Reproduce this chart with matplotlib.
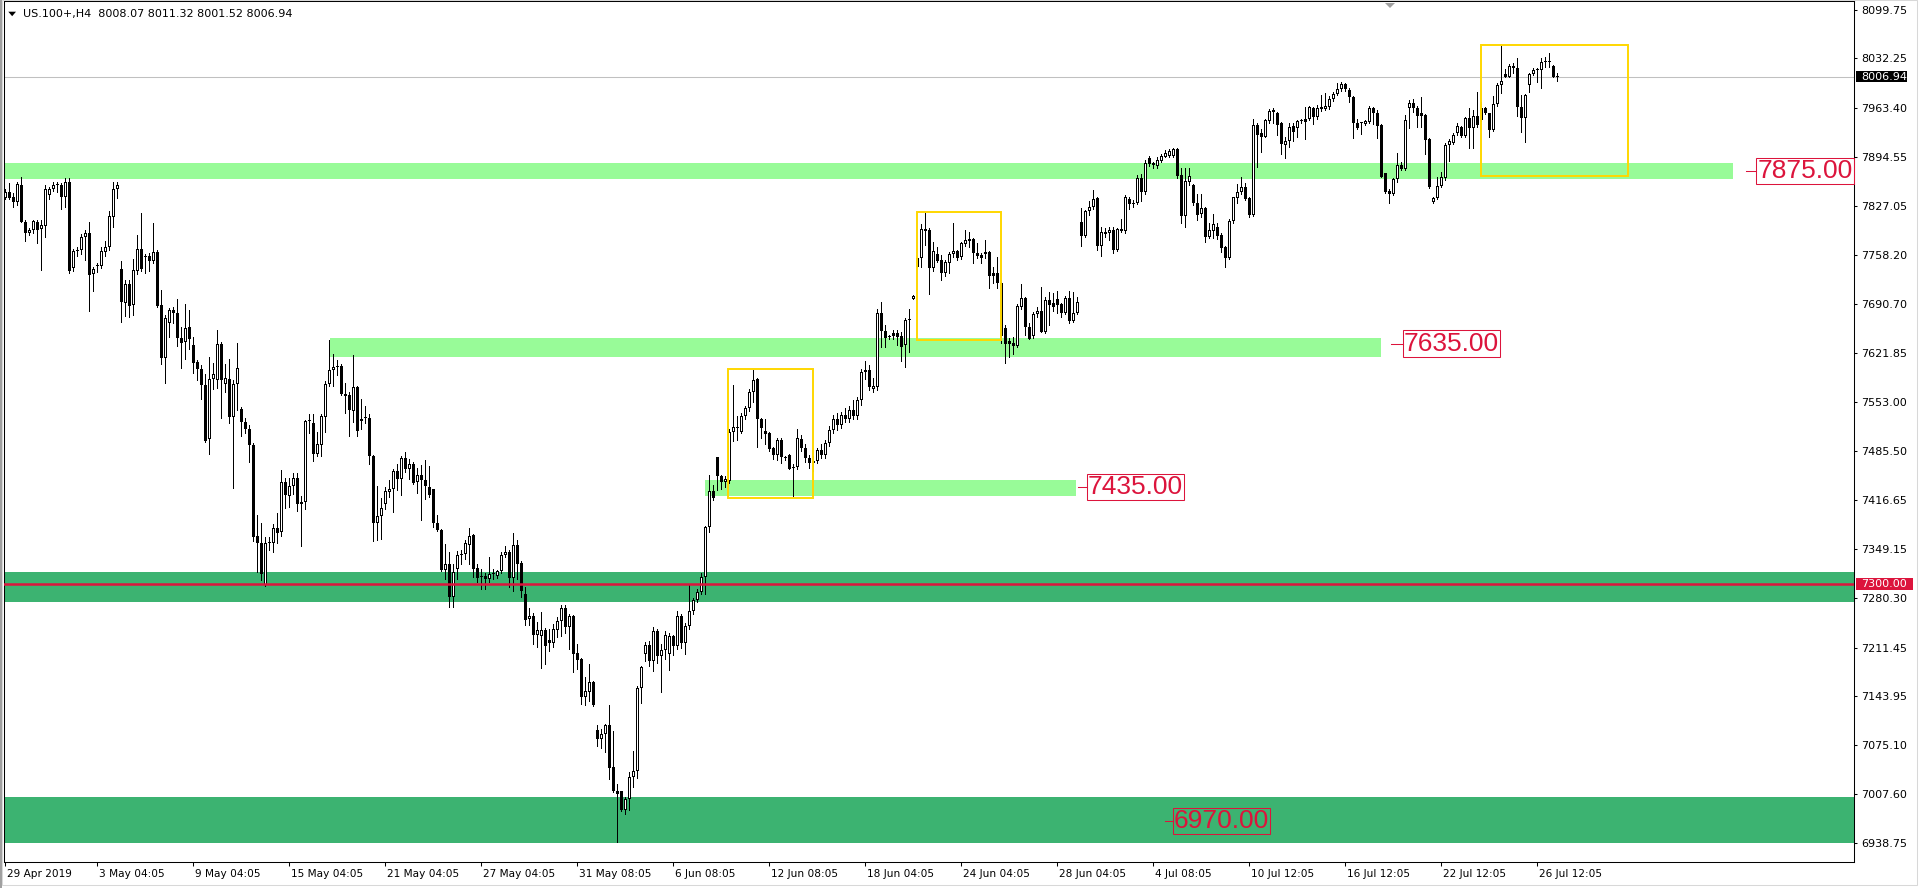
import numpy as np
import matplotlib.pyplot as plt
from matplotlib.patches import Rectangle, Polygon
from matplotlib.transforms import ScaledTranslation, blended_transform_factory

# H4 candles, one value per bar
opens = [
    7838.3, 7845.7, 7838.8, 7832.7, 7856.0, 7804.9, 7788.6, 7793.2, 7804.9, 7794.2,
    7798.8, 7842.0, 7849.9, 7855.9, 7855.9, 7839.7, 7859.7, 7740.8, 7764.0, 7765.4,
    7783.0, 7788.6, 7731.5, 7743.1, 7743.6, 7763.0, 7769.1, 7811.8, 7849.9, 7738.9,
    7692.0, 7717.6, 7688.3, 7736.6, 7766.8, 7756.1, 7757.0, 7750.5, 7762.1, 7688.8,
    7615.4, 7663.2, 7681.8, 7677.1, 7642.3, 7637.7, 7657.6, 7633.0, 7608.9, 7599.6,
    7577.3, 7501.6, 7585.2, 7584.3, 7634.4, 7578.3, 7585.2, 7533.2, 7578.2, 7543.9,
    7525.8, 7516.0, 7493.7, 7366.9, 7356.7, 7298.7, 7357.6, 7357.6, 7377.6, 7372.3,
    7441.9, 7423.0, 7436.0, 7447.9, 7412.1, 7413.6, 7526.5, 7524.0, 7481.7, 7494.2,
    7532.5, 7578.8, 7598.7, 7602.2, 7603.6, 7565.3, 7563.8, 7541.4, 7573.8, 7526.5,
    7531.0, 7531.5, 7477.8, 7384.7, 7394.7, 7411.1, 7428.5, 7432.0, 7456.9, 7445.9,
    7475.8, 7460.8, 7466.8, 7441.9, 7451.9, 7444.4, 7434.5, 7432.0, 7384.7, 7374.7,
    7320.0, 7328.5, 7281.7, 7321.5, 7339.9, 7341.4, 7354.8, 7368.3, 7322.5, 7310.1,
    7311.6, 7307.6, 7313.5, 7311.6, 7317.5, 7339.9, 7344.9, 7308.6, 7354.8, 7328.9,
    7286.7, 7250.9, 7255.7, 7229.3, 7227.8, 7235.5, 7222.1, 7217.3, 7236.5, 7247.9,
    7266.2, 7240.3, 7255.7, 7203.8, 7195.7, 7142.9, 7150.1, 7163.5, 7096.4, 7083.9,
    7091.6, 7103.1, 7044.6, 7010.9, 7010.9, 6984.6, 7000.4, 7031.1, 7038.8, 7154.9,
    7202.9, 7214.9, 7193.3, 7234.1, 7199.0, 7208.6, 7202.9, 7226.9, 7213.4, 7255.7,
    7218.2, 7241.3, 7262.9, 7277.3, 7289.2, 7309.4, 7379.4, 7429.4, 7476.4, 7450.0,
    7441.8, 7444.0, 7511.4, 7517.6, 7512.3, 7533.9, 7544.5, 7567.5, 7585.8, 7530.1,
    7513.3, 7510.9, 7489.3, 7480.2, 7501.3, 7475.4, 7479.7, 7462.9, 7462.9,
    7502.0, 7490.0, 7475.0, 7468.0, 7472.0, 7486.0, 7480.0, 7496.0, 7515.0, 7530.0,
    7522.0, 7535.0, 7530.0, 7542.0, 7534.0, 7556.0, 7595.0, 7598.0,
    7571.3, 7575.0, 7677.2, 7653.0, 7644.2, 7646.1, 7649.3, 7645.6, 7632.6, 7667.9,
    7697.1, 7742.2, 7753.8, 7792.3, 7793.3, 7740.8, 7759.4, 7751.5, 7732.9, 7747.8,
    7759.8, 7764.0, 7755.2, 7773.8, 7780.3, 7780.3, 7760.8, 7758.4, 7759.4, 7762.6,
    7729.6, 7732.9, 7719.9, 7656.3, 7638.6, 7635.4, 7632.1, 7686.0, 7698.1, 7657.7,
    7646.1, 7675.8, 7680.4, 7651.6, 7695.7, 7691.1, 7697.1, 7690.2, 7678.1, 7698.1, 7667.0, 7677.2,
    7804.0, 7785.4, 7819.8, 7825.8, 7838.3, 7771.5, 7787.3, 7789.6, 7793.3, 7765.4,
    7791.9, 7791.9, 7836.5, 7829.5, 7830.4, 7865.3, 7846.7, 7893.1, 7886.2, 7882.5,
    7889.9, 7895.5, 7896.4, 7896.4, 7905.7, 7869.5, 7813.3, 7860.6, 7856.0, 7831.4,
    7815.6, 7824.4, 7784.0, 7792.3, 7797.9, 7786.3, 7769.1, 7753.8, 7805.4, 7838.3,
    7845.8, 7852.7, 7838.3, 7814.2, 7939.6, 7928.9, 7923.3, 7945.6, 7958.2, 7956.8,
    7942.8, 7911.7, 7917.7, 7938.2, 7934.9, 7945.1, 7944.2, 7947.5, 7962.8, 7951.2,
    7964.2, 7961.9, 7965.1, 7975.3, 7982.8, 7989.3, 7996.7, 7988.3, 7978.1, 7942.8,
    7941.9, 7940.9, 7944.2, 7962.8, 7955.8, 7939.6, 7872.2, 7847.6, 7843.0, 7863.9,
    7883.8, 7877.8, 7962.8, 7969.7, 7962.8, 7956.7, 7953.5, 7920.0, 7831.8, 7837.4,
    7854.6, 7866.2, 7911.0, 7914.9, 7928.9, 7937.2, 7924.2, 7948.8, 7934.9, 7952.1,
    7946.5, 7962.8, 7955.8, 7932.6, 7968.8, 7995.3, 8010.6, 8006.9, 8021.7, 8018.5,
    7965.1, 7948.8, 7995.3, 8010.6, 8016.2, 8016.2, 8027.8, 8028.3, 8021.7, 8008.07,
]
highs = [
    7849.9, 7858.3, 7844.3, 7860.6, 7866.6, 7807.2, 7795.6, 7807.2, 7807.2, 7807.2,
    7855.9, 7852.7, 7860.6, 7860.1, 7858.3, 7865.2, 7865.2, 7766.8, 7769.1, 7787.7,
    7793.2, 7804.9, 7742.2, 7747.7, 7769.1, 7777.9, 7819.7, 7859.7, 7859.7, 7750.0,
    7723.6, 7723.6, 7752.8, 7786.3, 7816.5, 7759.3, 7760.7, 7802.6, 7765.4, 7709.7,
    7674.8, 7684.1, 7686.4, 7696.6, 7658.6, 7690.1, 7681.8, 7644.6, 7612.1, 7605.2,
    7592.6, 7616.8, 7607.5, 7653.9, 7637.7, 7606.1, 7613.1, 7584.3, 7636.3, 7547.1,
    7530.9, 7521.1, 7496.0, 7396.2, 7384.6, 7365.1, 7365.1, 7383.6, 7398.5, 7458.3,
    7447.9, 7447.9, 7454.4, 7454.4, 7423.0, 7528.0, 7537.5, 7537.5, 7511.6, 7536.5,
    7582.2, 7640.0, 7620.1, 7612.1, 7606.1, 7580.3, 7567.3, 7618.6, 7576.3, 7557.4,
    7547.4, 7537.5, 7479.3, 7437.0, 7419.5, 7434.5, 7444.4, 7460.8, 7466.8, 7477.8,
    7484.2, 7474.3, 7469.3, 7461.8, 7465.8, 7472.8, 7464.3, 7433.0, 7395.7, 7376.2,
    7355.8, 7344.9, 7328.5, 7346.4, 7347.4, 7361.3, 7378.2, 7369.8, 7327.5, 7321.5,
    7315.0, 7337.4, 7321.5, 7320.0, 7344.9, 7353.4, 7347.4, 7371.3, 7361.3, 7331.5,
    7295.1, 7266.2, 7259.5, 7247.0, 7260.5, 7238.4, 7237.4, 7243.7, 7253.3, 7270.1,
    7270.1, 7257.6, 7256.6, 7216.3, 7197.1, 7170.3, 7188.5, 7164.5, 7103.1, 7097.3,
    7104.5, 7131.9, 7094.9, 7021.5, 7011.9, 7003.8, 7037.4, 7067.6, 7157.3, 7186.1,
    7219.7, 7220.6, 7240.3, 7237.4, 7216.3, 7234.1, 7231.7, 7229.3, 7262.9, 7258.1,
    7246.1, 7297.9, 7280.6, 7293.1, 7315.6, 7381.4, 7452.4, 7438.0, 7477.4, 7452.4,
    7449.9, 7516.0, 7577.1, 7533.9, 7538.7, 7547.4, 7571.4, 7598.7, 7586.7, 7531.5,
    7530.1, 7512.3, 7490.8, 7502.8, 7502.8, 7478.8, 7481.2, 7467.7, 7515.7,
    7508.0, 7495.0, 7480.0, 7478.0, 7490.0, 7495.0, 7500.0, 7520.0, 7535.0, 7538.0,
    7540.0, 7545.0, 7548.0, 7556.0, 7560.0, 7600.0, 7610.0, 7605.0,
    7586.6, 7682.7, 7692.5, 7660.9, 7646.5, 7654.0, 7654.0, 7651.6, 7670.2, 7683.2,
    7702.7, 7753.8, 7801.6, 7817.4, 7796.5, 7776.1, 7769.1, 7758.4, 7751.5, 7763.1,
    7802.6, 7765.4, 7777.0, 7793.3, 7790.0, 7782.6, 7775.6, 7760.8, 7779.3, 7764.0,
    7742.2, 7756.1, 7721.0, 7660.9, 7643.3, 7644.7, 7689.7, 7718.0, 7700.4, 7663.2,
    7679.5, 7685.5, 7713.4, 7700.4, 7707.4, 7705.0, 7708.8, 7692.0, 7701.3, 7708.8, 7707.4, 7700.4,
    7823.5, 7821.2, 7833.7, 7849.0, 7839.7, 7797.0, 7795.6, 7797.9, 7797.9, 7795.6,
    7808.1, 7842.0, 7839.7, 7835.1, 7869.9, 7871.3, 7890.8, 7896.4, 7888.5, 7894.5,
    7899.2, 7904.8, 7905.7, 7907.1, 7907.1, 7879.2, 7879.2, 7879.2, 7857.4, 7843.4,
    7843.4, 7825.8, 7802.6, 7815.6, 7803.5, 7788.6, 7771.0, 7808.1, 7839.7, 7857.4,
    7867.6, 7858.3, 7839.7, 7947.5, 7941.9, 7933.5, 7947.5, 7961.4, 7962.8, 7958.2,
    7944.2, 7923.3, 7941.9, 7941.9, 7946.5, 7947.5, 7965.1, 7966.1, 7965.1, 7967.4,
    7981.4, 7984.6, 7980.0, 7986.0, 7998.6, 7999.9, 7998.6, 7990.7, 7979.9, 7947.5,
    7944.2, 7946.5, 7966.0, 7965.1, 7960.5, 7940.9, 7873.1, 7849.9, 7865.3, 7900.1,
    7888.5, 7953.5, 7974.4, 7975.3, 7966.0, 7979.0, 7954.9, 7921.0, 7839.7, 7867.6,
    7874.5, 7914.0, 7919.6, 7927.9, 7941.9, 7938.2, 7950.2, 7962.8, 7960.5, 7986.0,
    7972.1, 7964.2, 7956.7, 7980.0, 7997.6, 8049.6, 8017.1, 8024.5, 8025.5, 8032.4,
    7981.4, 7982.7, 8012.5, 8018.5, 8018.5, 8032.4, 8034.8, 8039.4, 8023.1, 8011.32,
]
lows = [
    7836.0, 7836.0, 7825.7, 7828.1, 7804.9, 7778.4, 7786.3, 7789.5, 7775.6, 7737.5,
    7783.0, 7836.9, 7848.0, 7846.7, 7823.0, 7824.8, 7733.8, 7736.6, 7757.0, 7759.8,
    7751.5, 7680.9, 7708.7, 7735.2, 7739.8, 7757.0, 7765.4, 7797.9, 7838.3, 7665.5,
    7673.4, 7672.5, 7674.8, 7731.5, 7736.6, 7733.8, 7736.6, 7746.8, 7685.5, 7606.1,
    7580.5, 7644.6, 7664.1, 7631.6, 7600.5, 7613.1, 7627.0, 7594.5, 7584.3, 7557.3,
    7497.4, 7480.7, 7571.3, 7572.7, 7530.9, 7567.1, 7523.9, 7434.3, 7542.5, 7506.3,
    7510.0, 7469.6, 7359.9, 7317.2, 7305.6, 7297.3, 7347.4, 7345.1, 7356.7, 7366.3,
    7406.1, 7407.1, 7426.0, 7402.1, 7352.4, 7404.6, 7510.6, 7471.8, 7477.8, 7478.3,
    7511.6, 7575.3, 7575.3, 7591.2, 7563.8, 7538.9, 7506.6, 7525.5, 7506.6, 7516.6,
    7524.0, 7467.8, 7359.8, 7361.3, 7362.3, 7404.6, 7421.0, 7399.6, 7431.0, 7424.5,
    7455.9, 7445.9, 7439.4, 7427.0, 7389.7, 7418.0, 7421.0, 7379.7, 7373.2, 7317.5,
    7307.6, 7267.8, 7267.8, 7306.6, 7328.5, 7334.9, 7327.5, 7310.1, 7302.6, 7292.6,
    7293.6, 7302.6, 7306.6, 7308.6, 7315.0, 7337.4, 7295.1, 7290.2, 7306.6, 7281.7,
    7242.9, 7242.2, 7216.3, 7211.5, 7182.7, 7188.5, 7206.7, 7211.5, 7225.9, 7226.9,
    7231.7, 7208.7, 7177.9, 7181.3, 7133.3, 7131.9, 7136.7, 7129.9, 7074.3, 7071.0,
    7066.2, 7027.8, 7010.0, 6940.0, 6983.1, 6979.8, 6984.6, 7016.7, 7029.2, 7134.8,
    7192.3, 7186.1, 7178.9, 7189.5, 7149.1, 7195.7, 7179.9, 7200.5, 7208.7, 7210.1,
    7202.9, 7237.4, 7258.1, 7274.8, 7285.4, 7285.4, 7371.8, 7416.4, 7430.8, 7432.2,
    7435.6, 7441.0, 7499.4, 7500.3, 7510.4, 7530.1, 7541.1, 7553.1, 7490.8, 7502.8,
    7495.6, 7485.0, 7474.0, 7472.5, 7469.2, 7472.5, 7459.6, 7422.6, 7459.6,
    7485.0, 7470.0, 7462.0, 7458.0, 7468.0, 7475.0, 7476.0, 7492.0, 7510.0, 7515.0,
    7518.0, 7525.0, 7525.0, 7530.0, 7530.0, 7550.0, 7585.0, 7570.0,
    7568.0, 7570.4, 7630.7, 7629.8, 7641.0, 7641.0, 7633.1, 7611.2, 7601.9, 7623.8,
    7696.7, 7742.2, 7742.2, 7772.4, 7704.1, 7736.6, 7749.2, 7723.6, 7729.2, 7732.9,
    7756.1, 7751.5, 7752.9, 7771.4, 7770.1, 7747.8, 7753.8, 7747.8, 7753.8, 7712.9,
    7718.9, 7712.9, 7636.0, 7608.4, 7615.9, 7620.5, 7630.7, 7682.7, 7647.0, 7640.9,
    7642.3, 7672.5, 7651.6, 7650.2, 7660.9, 7680.9, 7677.2, 7671.6, 7676.2, 7663.2, 7665.6, 7676.2,
    7771.0, 7784.0, 7814.2, 7822.1, 7765.4, 7757.5, 7784.0, 7779.4, 7761.7, 7764.0,
    7789.9, 7788.6, 7822.1, 7824.9, 7829.5, 7834.2, 7843.4, 7882.5, 7879.2, 7879.2,
    7888.5, 7894.5, 7894.5, 7895.5, 7865.3, 7803.5, 7797.0, 7856.0, 7828.1, 7807.2,
    7811.9, 7777.0, 7781.7, 7781.7, 7780.3, 7763.1, 7742.2, 7752.4, 7803.5, 7831.4,
    7843.4, 7835.1, 7810.9, 7812.8, 7880.6, 7902.4, 7922.4, 7942.8, 7941.9, 7925.6,
    7899.2, 7893.1, 7908.5, 7917.7, 7923.3, 7941.9, 7919.6, 7946.5, 7941.0, 7947.5,
    7959.5, 7960.5, 7961.4, 7973.5, 7981.4, 7987.4, 7987.4, 7972.1, 7921.9, 7934.0,
    7927.0, 7939.6, 7941.9, 7940.9, 7921.0, 7866.6, 7844.3, 7831.4, 7842.0, 7860.6,
    7876.8, 7876.8, 7934.9, 7958.1, 7937.2, 7936.3, 7899.2, 7851.3, 7830.4, 7836.0,
    7852.7, 7862.9, 7889.9, 7913.1, 7925.6, 7923.3, 7923.3, 7907.0, 7907.0, 7937.2,
    7945.6, 7954.9, 7923.3, 7931.6, 7966.0, 7984.6, 8005.9, 8005.9, 8012.5, 7952.1,
    7930.3, 7916.3, 7986.0, 8009.2, 7999.9, 7990.6, 8020.8, 8019.9, 8005.9, 8001.52,
]
closes = [
    7845.7, 7837.4, 7832.7, 7857.3, 7804.9, 7788.6, 7793.2, 7805.8, 7793.2, 7800.2,
    7849.9, 7849.9, 7855.9, 7856.2, 7839.7, 7859.7, 7736.6, 7764.0, 7765.4, 7783.0,
    7788.6, 7730.6, 7738.9, 7744.5, 7764.0, 7769.1, 7812.8, 7849.9, 7855.9, 7693.4,
    7717.6, 7687.4, 7737.5, 7766.8, 7738.4, 7757.5, 7750.5, 7762.1, 7687.4, 7615.4,
    7670.2, 7681.8, 7677.1, 7642.3, 7636.3, 7656.2, 7640.9, 7608.4, 7599.1, 7576.8,
    7499.3, 7585.2, 7592.2, 7634.4, 7584.3, 7586.6, 7533.2, 7578.2, 7600.5, 7526.2,
    7515.5, 7493.7, 7366.0, 7356.7, 7314.0, 7357.6, 7358.5, 7377.6, 7371.5, 7441.9,
    7424.5, 7436.0, 7447.9, 7412.1, 7413.6, 7526.5, 7527.0, 7481.7, 7495.2, 7534.0,
    7578.8, 7597.7, 7602.7, 7603.6, 7565.3, 7562.3, 7542.9, 7573.8, 7512.6, 7530.5,
    7531.5, 7477.8, 7384.7, 7394.7, 7405.6, 7429.5, 7432.0, 7456.9, 7445.9, 7475.8,
    7460.8, 7466.8, 7440.9, 7451.9, 7444.4, 7436.0, 7424.5, 7384.7, 7374.7, 7320.0,
    7328.5, 7281.7, 7316.5, 7339.9, 7341.4, 7357.3, 7366.3, 7321.5, 7308.6, 7310.6,
    7307.6, 7313.5, 7314.5, 7317.5, 7339.9, 7344.9, 7308.6, 7354.8, 7328.5, 7290.1,
    7250.4, 7255.7, 7229.3, 7235.5, 7235.5, 7213.4, 7217.3, 7237.4, 7247.9, 7266.2,
    7240.3, 7254.7, 7202.9, 7194.2, 7142.9, 7151.1, 7163.5, 7130.9, 7083.9, 7091.6,
    7103.1, 7043.6, 7010.9, 7007.1, 6984.6, 7000.4, 7031.1, 7038.8, 7154.9, 7184.6,
    7214.9, 7193.3, 7234.1, 7199.0, 7208.6, 7229.3, 7227.8, 7213.4, 7255.7, 7218.2,
    7241.3, 7262.9, 7277.3, 7289.2, 7309.4, 7379.4, 7429.4, 7419.8, 7450.0, 7441.8,
    7446.6, 7512.0, 7518.1, 7518.5, 7533.9, 7544.5, 7567.5, 7584.3, 7530.1, 7517.1,
    7509.0, 7488.4, 7480.2, 7501.3, 7476.4, 7477.4, 7460.5, 7461.0, 7502.8,
    7490.0, 7475.0, 7468.0, 7472.0, 7486.0, 7480.0, 7496.0, 7515.0, 7530.0, 7522.0,
    7535.0, 7530.0, 7542.0, 7534.0, 7556.0, 7595.0, 7598.0, 7574.0,
    7575.9, 7677.2, 7653.0, 7642.3, 7644.7, 7649.3, 7644.7, 7630.7, 7667.9, 7668.4,
    7701.8, 7753.8, 7794.2, 7794.2, 7740.8, 7764.0, 7750.5, 7732.9, 7749.2, 7759.8,
    7764.0, 7754.7, 7774.7, 7779.3, 7778.4, 7760.8, 7757.5, 7754.7, 7762.6, 7729.6,
    7732.9, 7719.9, 7645.0, 7634.4, 7634.4, 7632.1, 7687.4, 7698.1, 7657.7, 7641.4,
    7675.8, 7680.4, 7651.6, 7695.7, 7688.8, 7685.5, 7688.8, 7677.2, 7698.1, 7667.0, 7677.2, 7692.5,
    7785.4, 7819.8, 7825.8, 7836.0, 7771.5, 7790.0, 7790.0, 7793.3, 7765.4, 7794.2,
    7794.2, 7839.7, 7829.5, 7831.4, 7865.3, 7846.7, 7887.1, 7885.2, 7883.8, 7890.8,
    7896.4, 7900.1, 7903.3, 7905.7, 7868.5, 7813.3, 7861.6, 7868.5, 7830.4, 7814.2,
    7824.4, 7784.0, 7793.3, 7801.6, 7785.4, 7768.7, 7753.8, 7805.8, 7838.8, 7845.8,
    7852.7, 7836.5, 7814.2, 7939.6, 7925.6, 7923.3, 7946.5, 7959.1, 7960.5, 7939.6,
    7912.6, 7917.7, 7936.3, 7930.3, 7945.6, 7945.6, 7947.5, 7965.1, 7951.2, 7962.8,
    7961.9, 7966.1, 7975.3, 7982.8, 7989.3, 7996.7, 7989.3, 7978.1, 7942.8, 7934.9,
    7942.3, 7945.6, 7962.8, 7955.8, 7938.6, 7867.6, 7846.7, 7843.0, 7863.9, 7883.8,
    7877.8, 7946.5, 7970.7, 7962.8, 7952.1, 7952.1, 7918.6, 7852.7, 7837.4, 7854.6,
    7867.6, 7911.7, 7917.7, 7925.6, 7938.2, 7924.2, 7948.8, 7934.9, 7952.1, 7939.6,
    7962.8, 7955.8, 7932.6, 7968.8, 7995.3, 8001.3, 8006.9, 8021.7, 8018.5, 7965.1,
    7948.8, 7981.4, 8010.6, 8016.2, 8016.6, 8027.8, 8028.3, 8028.0, 8006.9, 8006.94,
]

symbol = 'US.100+,H4'
price_ticks = [8099.75, 8032.25, 7963.40, 7894.55, 7827.05, 7758.20, 7690.70, 7621.85,
               7553.00, 7485.50, 7416.65, 7349.15, 7280.30, 7211.45, 7143.95, 7075.10,
               7007.60, 6938.75]
time_pos = [-0.2, 23, 47, 71, 95, 119, 143, 167, 191, 215, 239, 263, 287, 311, 335, 359, 383]
time_labels = ['29 Apr 2019', '3 May 04:05', '9 May 04:05', '15 May 04:05', '21 May 04:05',
               '27 May 04:05', '31 May 08:05', '6 Jun 08:05', '12 Jun 08:05', '18 Jun 04:05',
               '24 Jun 04:05', '28 Jun 04:05', '4 Jul 08:05', '10 Jul 12:05', '16 Jul 12:05',
               '22 Jul 12:05', '26 Jul 12:05']

# zones drawn on the chart: (low, high, from bar, to bar)
light_zones = [(7864.3, 7886.9, -0.4, 431.9),
               (7616.8, 7642.4, 81.3, 343.9),
               (7422.6, 7444.2, 174.9, 267.7)]
dark_zones = [(7274.9, 7316.7), (6939.5, 7003.6)]
boxes = [(180.7, 201.9, 7420.3, 7599.6),
         (227.9, 248.9, 7640.0, 7817.9),
         (368.9, 405.8, 7868.9, 8051.0)]
level_labels = [(7875.0, 435.2, 437.7), (7635.0, 346.4, 349.4),
                (7435.0, 268.2, 270.4), (6970.0, 289.9, 291.9)]
key_level = 7300.0

assert len(opens) == len(highs) == len(lows) == len(closes)

RED = '#DC143C'
W, H = 1920, 888
fig = plt.figure(figsize=(W / 100, H / 100), dpi=100)
ax = fig.add_axes([4 / W, 26 / H, 1850 / W, 861 / H])
ax.set_xlim(-0.33, 462.2)
ax.set_ylim(6912.6, 8112.3)
px = (8112.3 - 6912.6) / 861          # price units per pixel

for lo, hi in dark_zones:
    ax.axhspan(lo, hi, color='#3CB371', lw=0, zorder=1)
for lo, hi, x0, x1 in light_zones:
    ax.fill_between([x0, x1], lo, hi, color='#98FB98', lw=0, zorder=1)

ax.axhline(closes[-1], color='#C0C0C0', lw=0.75, zorder=2)

# candles: 1px wick, 3px body; bullish bodies get a white 1px core
o, h, l, c = map(np.array, (opens, highs, lows, closes))
x = np.arange(len(o))
up = c >= o
bot = np.minimum(o, c)
ht = np.maximum(np.abs(c - o), px)
ax.vlines(x, l, h, color='black', lw=0.72, zorder=3, antialiased=False)
ax.bar(x, ht, bottom=bot, width=0.75, color='black', lw=0, zorder=4, antialiased=False)
core = up & (ht > 2.5 * px)
ax.bar(x[core], ht[core] - 2 * px, bottom=bot[core] + px, width=0.25, color='white', lw=0,
       zorder=5, antialiased=False)

ax.axhline(key_level, color=RED, lw=1.8, zorder=6)

for x0, x1, lo, hi in boxes:
    ax.add_patch(Rectangle((x0, lo), x1 - x0, hi - lo, fill=False, ec='#FFD700', lw=1.4, zorder=7))

for price, d0, d1 in level_labels:
    ax.plot([d0, d1], [price, price], color=RED, lw=0.75, zorder=8)
    ax.text(d1 + 0.3, price, f'{price:.2f}', fontsize=19, family='Liberation Sans', color=RED,
            ha='left', va='center', zorder=8,
            bbox=dict(boxstyle='square,pad=0.04', fc='none', ec=RED, lw=0.75))

# axes styling
for s in ax.spines.values():
    s.set_linewidth(0.75)
ax.yaxis.tick_right()
ax.set_yticks(price_ticks)
ax.set_yticklabels([f'{v:.2f}' for v in price_ticks])
ax.tick_params(axis='y', direction='out', length=2.2, width=0.75, pad=2.9, labelsize=8)
ax.set_xticks(time_pos)
ax.set_xticklabels(time_labels, ha='left')
ax.tick_params(axis='x', direction='out', length=2.9, width=0.75, pad=2.2, labelsize=7.6)
shift = ScaledTranslation(2 / 100, 0, fig.dpi_scale_trans)
for lbl in ax.get_xticklabels():
    lbl.set_transform(lbl.get_transform() + shift)

# price tags on the right axis
tr = blended_transform_factory(ax.transAxes, ax.transData)
for price, face, half, wfrac in [(closes[-1], 'black', 7.4, 0.0276), (key_level, RED, 8.6, 0.0306)]:
    ax.add_patch(Rectangle((1.0011, price - half), wfrac, 2 * half, transform=tr,
                           fc=face, ec='none', clip_on=False, zorder=9))
    ax.text(1.0038, price, f'{price:.2f}', transform=tr, color='white', fontsize=8,
            ha='left', va='center', clip_on=False, zorder=10)

# header
fig.text(23 / W, 1 - 14.5 / H,
         f'{symbol}  {o[-1]:.2f} {h[-1]:.2f} {l[-1]:.2f} {c[-1]:.2f}',
         fontsize=8, ha='left', va='center')
fig.patches.append(Polygon([(8.3 / W, 1 - 11.7 / H), (16 / W, 1 - 11.7 / H), (12.15 / W, 1 - 16.2 / H)],
                           closed=True, fc='black', ec='none', transform=fig.transFigure))
# chart shift marker
fig.patches.append(Polygon([(1385 / W, 1 - 3 / H), (1395 / W, 1 - 3 / H), (1390 / W, 1 - 8 / H)],
                           closed=True, fc='#A0A0A0', ec='none', transform=fig.transFigure))
# window border
fig.patches.append(Rectangle((0, 0), 2 / W, 1, fc='#A0A0A0', ec='none', transform=fig.transFigure))
fig.patches.append(Rectangle((2 / W, 3 / H), 1915 / W, 1 - 3 / H, fill=False, ec='#D8D8D8',
                             lw=0.75, transform=fig.transFigure))

fig.savefig('out.png', dpi=100)
